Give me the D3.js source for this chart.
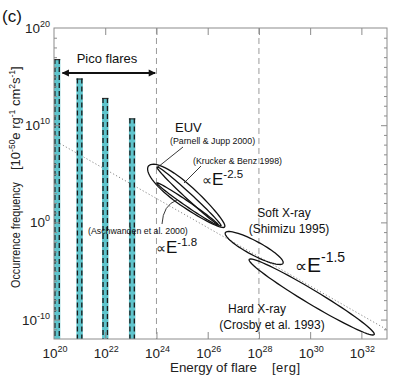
<!DOCTYPE html>
<html><head><meta charset="utf-8">
<script src="https://cdn.jsdelivr.net/npm/d3@7"></script>
<style>
html,body{margin:0;padding:0;background:#fff;}
svg{display:block;font-family:"Liberation Sans",Arial,sans-serif;}
</style></head>
<body>
<svg id="c" width="400" height="379"></svg>
<script>
// ---- data (exponents of 10) ----
const xTickExp = [20, 22, 24, 26, 28, 30, 32];
const yTickExp = [20, 10, 0, -10];
const dividerExp = [24, 28];
const barEnergyExp = [20.12, 21, 22, 23.05];
const barFreqExp = [16.8, 14.8, 12.8, 10.7];
const fitEnergyExp = [20, 33];
const fitFreqExp = [8.46, -11.04];
const arrowEnergyExp = [20.33, 23.95];
const arrowFreqExp = [15.37, 15.37];
const ellipseNames = ["Parnell & Jupp 2000", "Krucker & Benz 1998", "Aschwanden et al. 2000", "Shimizu 1995", "Crosby et al. 1993"];
const ellipseE1 = [23.69, 24.02, 24.02, 26.69, 27.62];
const ellipseF1 = [5.80, 5.70, 4.05, -1.06, -3.81];
const ellipseE2 = [26.66, 26.52, 26.41, 28.94, 32.50];
const ellipseF2 = [-0.47, -0.37, -0.27, -4.21, -11.54];

const P = v => Math.pow(10, v);
const svg = d3.select("#c");
const L = 54, R = 387, T = 28, B = 339;
const x = d3.scaleLog().domain([P(20), P(33)]).range([L, R]);
const y = d3.scaleLog().domain([P(-12), P(20)]).range([B, T]);
const axisCol = "#8c8c8c";

const defs = svg.append("defs");
defs.append("clipPath").attr("id", "clip").append("rect")
  .attr("x", L).attr("y", T).attr("width", R - L).attr("height", B - T);
["s", "e"].forEach(k => {
  defs.append("marker").attr("id", "ar" + k).attr("viewBox", "0 0 10 10")
    .attr("refX", 9).attr("refY", 5).attr("markerWidth", 6).attr("markerHeight", 4)
    .attr("orient", k === "s" ? "auto-start-reverse" : "auto").attr("markerUnits", "strokeWidth")
    .append("path").attr("d", "M0,0 L10,5 L0,10 Z").attr("fill", "#111");
});

const plot = svg.append("g").attr("clip-path", "url(#clip)");

// divider dashed lines
plot.selectAll(".div").data(dividerExp).join("line")
  .attr("x1", d => x(P(d))).attr("x2", d => x(P(d)))
  .attr("y1", T).attr("y2", B)
  .attr("stroke", "#9a9a9a").attr("stroke-width", 1).attr("stroke-dasharray", "6,4");

// power-law fit dotted line
plot.append("line")
  .attr("x1", x(P(fitEnergyExp[0]))).attr("y1", y(P(fitFreqExp[0])))
  .attr("x2", x(P(fitEnergyExp[1]))).attr("y2", y(P(fitFreqExp[1])))
  .attr("stroke", "#888").attr("stroke-width", 1).attr("stroke-dasharray", "1.2,2.2");

// bars
const bw = 6.4;
const bars = plot.selectAll(".bar").data(barEnergyExp.map((e, i) => ({e, f: barFreqExp[i]}))).join("g");
bars.append("rect")
  .attr("x", d => x(P(d.e)) - bw / 2).attr("width", bw)
  .attr("y", d => y(P(d.f))).attr("height", d => B - y(P(d.f)))
  .attr("fill", "#5ec4cc");
bars.append("line")
  .attr("x1", d => x(P(d.e)) - bw / 2).attr("x2", d => x(P(d.e)) + bw / 2)
  .attr("y1", d => y(P(d.f)) + 0.5).attr("y2", d => y(P(d.f)) + 0.5)
  .attr("stroke", "#333").attr("stroke-width", 1.2);
[-1, 1].forEach(s => {
  bars.append("line")
    .attr("x1", d => x(P(d.e)) + s * (bw / 2 - 1)).attr("x2", d => x(P(d.e)) + s * (bw / 2 - 1))
    .attr("y1", d => y(P(d.f))).attr("y2", B)
    .attr("stroke", "#1a1a1a").attr("stroke-width", 1.3).attr("stroke-dasharray", "5,3");
});

// ellipses (first one slightly egg-shaped: broad upper-left end)
const ew = [10.5, 3, 2.5, 7, 7];
const egg = [0.3, 0, 0, 0, 0];
ellipseNames.forEach((n, i) => {
  const x1 = x(P(ellipseE1[i])), y1 = y(P(ellipseF1[i]));
  const x2 = x(P(ellipseE2[i])), y2 = y(P(ellipseF2[i]));
  const cx = (x1 + x2) / 2, cy = (y1 + y2) / 2;
  const rx = Math.hypot(x2 - x1, y2 - y1) / 2;
  const ang = Math.atan2(y2 - y1, x2 - x1) * 180 / Math.PI;
  const pts = d3.range(0, 73).map(k => {
    const t = k / 72 * 2 * Math.PI;
    return [rx * Math.cos(t), ew[i] * Math.sin(t) * (1 - egg[i] * Math.cos(t))];
  });
  plot.append("path").attr("d", d3.line().curve(d3.curveLinearClosed)(pts))
    .attr("transform", `translate(${cx},${cy}) rotate(${ang})`)
    .attr("fill", "none").attr("stroke", "#111").attr("stroke-width", 1.3);
});

// arrow
svg.append("line")
  .attr("x1", x(P(arrowEnergyExp[0]))).attr("x2", x(P(arrowEnergyExp[1])))
  .attr("y1", y(P(arrowFreqExp[0]))).attr("y2", y(P(arrowFreqExp[1])))
  .attr("stroke", "#111").attr("stroke-width", 1.8)
  .attr("marker-start", "url(#ars)").attr("marker-end", "url(#are)");

// axes box and ticks
const gAx = svg.append("g");
function styleAxis(g) {
  g.select(".domain").remove();
  g.selectAll(".tick line").attr("stroke", axisCol);
  g.selectAll(".tick text").remove();
}
const xMajor = [22, 24, 26, 28, 30, 32].map(P);
gAx.append("g").attr("transform", `translate(0,${B})`)
  .call(d3.axisBottom(x).tickValues(xMajor).tickSize(-7)).call(styleAxis);
gAx.append("g").attr("transform", `translate(0,${T})`)
  .call(d3.axisTop(x).tickValues(xMajor).tickSize(-7)).call(styleAxis);
const yMinor = d3.range(-11, 20).filter(d => d % 10 !== 0).map(P);
const yMajor = [10, 0, -10].map(P);
gAx.append("g").attr("transform", `translate(${L},0)`)
  .call(d3.axisLeft(y).tickValues(yMinor).tickSize(-3)).call(styleAxis);
gAx.append("g").attr("transform", `translate(${L},0)`)
  .call(d3.axisLeft(y).tickValues(yMajor).tickSize(-6)).call(styleAxis);
gAx.append("g").attr("transform", `translate(${R},0)`)
  .call(d3.axisRight(y).tickValues(yMinor).tickSize(-3)).call(styleAxis);
gAx.append("g").attr("transform", `translate(${R},0)`)
  .call(d3.axisRight(y).tickValues(yMajor).tickSize(-6)).call(styleAxis);
gAx.append("rect").attr("x", L).attr("y", T).attr("width", R - L).attr("height", B - T)
  .attr("fill", "none").attr("stroke", axisCol).attr("stroke-width", 1);

// power-of-ten text helper
function powText(sel, base, exp, bs, ss, rise) {
  sel.append("tspan").attr("font-size", bs).text(base);
  sel.append("tspan").attr("font-size", ss).attr("dy", -rise).text(exp);
}

// tick labels
xTickExp.forEach(e => {
  const t = svg.append("text").attr("x", x(P(e)) + 1).attr("y", 358)
    .attr("text-anchor", "middle").attr("fill", "#222");
  powText(t, "10", e, 13.5, 9, 6);
});
yTickExp.forEach(e => {
  const t = svg.append("text").attr("x", 50).attr("y", y(P(e)) + 5)
    .attr("text-anchor", "end").attr("fill", "#222");
  powText(t, "10", e === 0 ? "0" : (e < 0 ? "-" + (-e) : e), 13.5, 9, 6);
});

// axis titles
svg.append("text").attr("x", 170).attr("y", 372).attr("font-size", 13).attr("fill", "#222")
  .attr("textLength", 87).attr("lengthAdjust", "spacingAndGlyphs").text("Energy of flare");
svg.append("text").attr("x", 272).attr("y", 372).attr("font-size", 13).attr("fill", "#222")
  .attr("textLength", 28).attr("lengthAdjust", "spacing").text("[erg]");

const yl = svg.append("g").attr("transform", "translate(20,0) rotate(-90)").attr("fill", "#222");
yl.append("text").attr("x", -288).attr("y", 0).attr("font-size", 13.5)
  .attr("textLength", 106).attr("lengthAdjust", "spacingAndGlyphs").text("Occurrence frequency");
const yb = yl.append("text").attr("x", -170).attr("y", 0).attr("font-size", 13);
yb.append("tspan").text("[10");
yb.append("tspan").attr("font-size", 8.5).attr("dy", -5).text("-50");
yb.append("tspan").attr("dy", 5).text("e rg");
yb.append("tspan").attr("font-size", 8.5).attr("dy", -5).text("-1");
yb.append("tspan").attr("dy", 5).text(" cm");
yb.append("tspan").attr("font-size", 8.5).attr("dy", -5).text("2");
yb.append("tspan").attr("dy", 5).text("s");
yb.append("tspan").attr("font-size", 8.5).attr("dy", -5).text("-1");
yb.append("tspan").attr("dy", 5).text("]");

// panel label
svg.append("text").attr("x", 2).attr("y", 22).attr("font-size", 17).attr("fill", "#111").text("(c)");

// annotations
const ann = svg.append("g").attr("fill", "#111");
ann.append("text").attr("x", 107).attr("y", 63).attr("text-anchor", "middle").attr("font-size", 13).text("Pico flares");
ann.append("text").attr("x", 175).attr("y", 132).attr("font-size", 13).text("EUV");
ann.append("text").attr("x", 170).attr("y", 144).attr("font-size", 8.8).text("(Parnell & Jupp 2000)");
ann.append("text").attr("x", 193).attr("y", 164).attr("font-size", 8.8).text("(Krucker & Benz 1998)");
ann.append("text").attr("x", 88).attr("y", 234).attr("font-size", 8.8).text("(Aschwanden et al. 2000)");
ann.append("text").attr("x", 284).attr("y", 217).attr("text-anchor", "middle").attr("font-size", 12).text("Soft X-ray");
ann.append("text").attr("x", 289).attr("y", 233).attr("text-anchor", "middle").attr("font-size", 12).text("(Shimizu 1995)");
ann.append("text").attr("x", 257).attr("y", 313).attr("text-anchor", "middle").attr("font-size", 12).text("Hard X-ray");
ann.append("text").attr("x", 272).attr("y", 329).attr("text-anchor", "middle").attr("font-size", 12).text("(Crosby et al. 1993)");

function propText(px, py, exp, ps, es, ss, rise) {
  const t = ann.append("text").attr("x", px).attr("y", py);
  t.append("tspan").attr("font-size", ps).text("\u221D");
  t.append("tspan").attr("font-size", es).text("E");
  t.append("tspan").attr("font-size", ss).attr("dy", -rise).text(exp);
}
propText(202, 185, "-2.5", 14, 17, 11.5, 7.5);
propText(156, 253, "-1.8", 14, 17, 11.5, 7.5);
propText(295, 272, "-1.5", 17, 21, 14, 10);

// pointer lines
const ptr = svg.append("g").attr("fill", "none").attr("stroke", "#222").attr("stroke-width", 0.9);
ptr.append("line").attr("x1", 183).attr("y1", 147).attr("x2", 158).attr("y2", 167);
ptr.append("line").attr("x1", 201).attr("y1", 166).attr("x2", 184).attr("y2", 183);
ptr.append("path").attr("d", "M162,224 Q163,205 177,200");
</script>
</body></html>
